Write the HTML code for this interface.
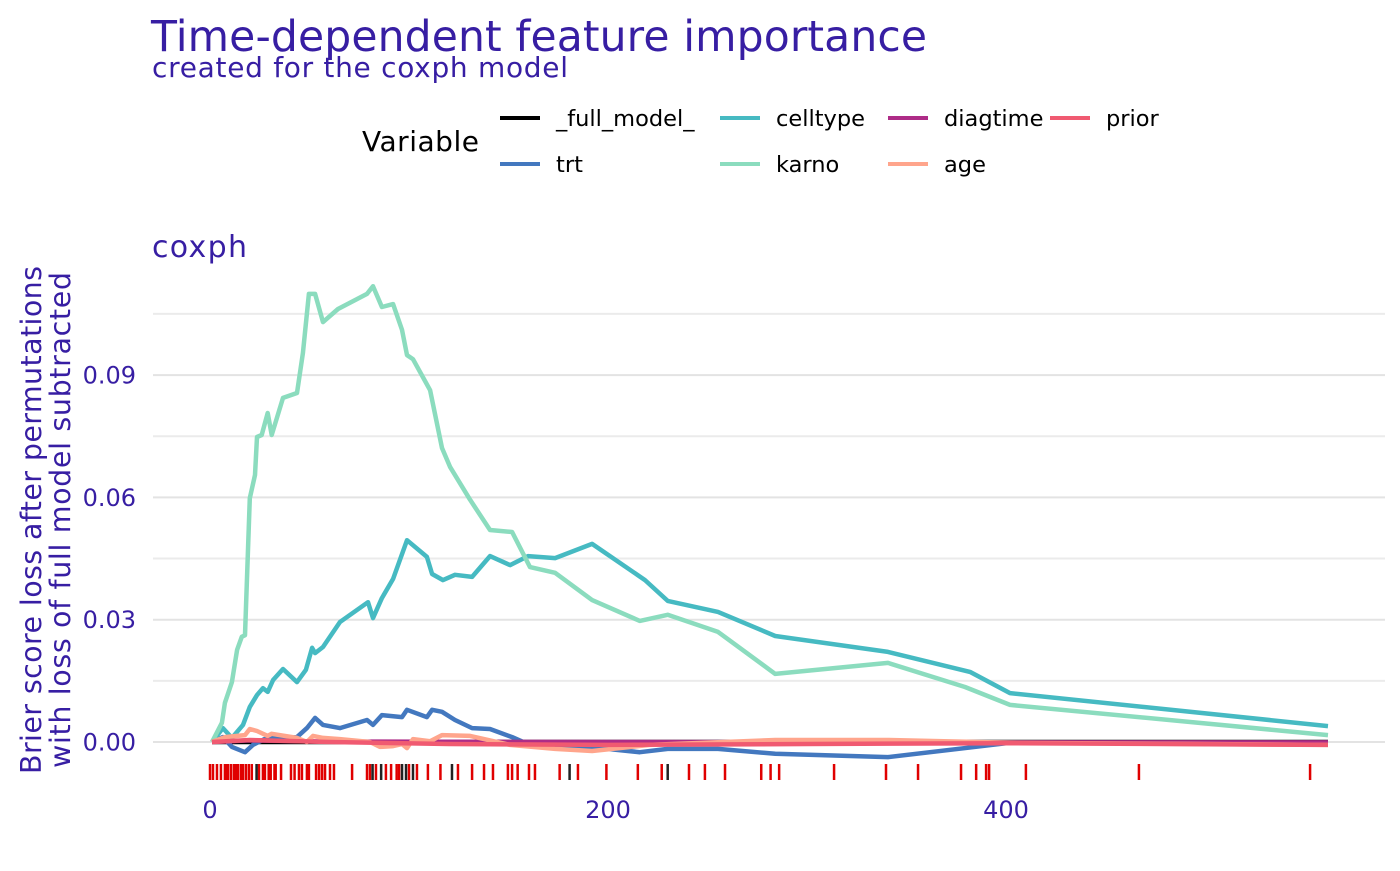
<!DOCTYPE html>
<html><head><meta charset="utf-8"><style>
html,body{margin:0;padding:0;background:#fff;}
svg text{font-family:"DejaVu Sans","Liberation Sans",sans-serif;}
</style></head><body>
<svg id="chart" width="1400" height="866" viewBox="0 0 1400 866" xmlns="http://www.w3.org/2000/svg">
<text x="151" y="51" font-size="42.5" fill="#371ea3" textLength="776">Time-dependent feature importance</text>
<text x="152" y="77" font-size="28" fill="#371ea3" textLength="416">created for the coxph model</text>
<g>
<text x="362" y="151" font-size="28" fill="#000" textLength="117">Variable</text>
</g>
<text x="152" y="257" font-size="30" fill="#371ea3" textLength="95">coxph</text>
<g transform="translate(0,520) rotate(-90)">
<text x="0" y="41" font-size="28.5" fill="#371ea3" text-anchor="middle" textLength="508">Brier score loss after permutations</text>
<text x="0" y="70" font-size="28.5" fill="#371ea3" text-anchor="middle" textLength="496">with loss of full model subtracted</text>
</g>
<g id="grid"></g><g id="axes"></g><g id="rug"></g><g id="lines"></g>
</svg>
<script>
const NS="http://www.w3.org/2000/svg";
const yTicks=[0,0.03,0.06,0.09];
const yMinor=[0.015,0.045,0.075,0.105];
const xTicks=[0,200,400];
const seriesNames=["_full_model_","trt","celltype","karno","diagtime","age","prior"];
const seriesColors=["#000000","#4378bf","#46bac2","#8bdcbe","#ae2c87","#ffa58c","#f05a71"];
const fullT=[1,100,200,300,400,561.8];
const fullV=[0,0,0,0,0,0];
const trtT=[1,6.5,11,17.6,21.6,28.6,43.7,48.7,52.8,56.8,65.3,78.9,81.9,86.4,96.5,99,109,111.6,116.6,123.1,131.7,140.7,151.8,160.8,196,216,230,255.3,284,340.7,402,561.8];
const trtV=[0,.0012,-.0012,-.0025,-.0007,.001,.0012,.0034,.0059,.0042,.0034,.0054,.0042,.0066,.0061,.0079,.0061,.0079,.0074,.0054,.0034,.0032,.0012,-.0007,-.0015,-.0025,-.0017,-.0017,-.0029,-.0037,-.0002,-.0002];
const cellT=[1,6.5,11,16.6,20,23.6,26.6,29,31.7,36.7,43.7,48.2,51.3,52.8,56.8,65.3,79.4,81.9,86.4,92,99,109,111.6,117.1,123.1,131.7,140.7,150.8,159.8,173.4,192,218.6,230,255.3,284,340.7,381.9,402,561.8];
const cellV=[0,.0034,.001,.0042,.0086,.0115,.0132,.0123,.0152,.0179,.0147,.0177,.0231,.0218,.0233,.0294,.0343,.0304,.0353,.0400,.0495,.0454,.0412,.0397,.041,.0405,.0456,.0434,.0456,.0451,.0486,.0397,.0346,.0319,.026,.0221,.0172,.012,.0039];
const karnoT=[1,6,7.5,11,13.6,16,17.6,20,22.6,23.6,26,29,31,36.7,43.7,46.7,49.7,52.8,56.8,64.3,78.9,81.9,86.4,92,96.5,99,102,110.6,116.6,120.6,130.7,140.7,151.8,160.8,173.4,192,216,230,255.3,284,340.7,379.4,402,561.8];
const karnoV=[0,.0047,.0096,.0147,.0226,.0258,.0262,.0598,.0655,.0748,.0753,.0807,.0753,.0844,.0856,.0954,.1099,.1099,.1030,.1062,.1099,.1118,.1067,.1074,.1011,.0949,.0939,.0863,.0721,.0675,.0594,.0520,.0515,.0429,.0415,.0348,.0297,.0312,.0270,.0167,.0194,.0135,.0091,.0017];
const diagT=[1,20,60,200,400,561.8];
const diagV=[0,.0004,.0001,0,-.0001,-.0001];
const ageT=[1,7.5,17.6,20,23.6,29,31,43.7,48.7,51.8,56.8,65.3,80.4,85.4,92,96.5,99,102,110.6,116.6,130.7,150.8,173.4,192,221,284,340.7,402,561.8];
const ageV=[0,.0012,.0017,.0032,.0027,.0015,.002,.001,0,.0015,.001,.0007,0,-.0012,-.001,-.0005,-.0015,.0007,.0002,.0017,.0015,-.0007,-.0017,-.0022,-.0007,.0005,.0005,-.0002,-.0007];
const priorT=[1,20,60,120,200,300,400,561.8];
const priorV=[0,.0005,0,-.0005,-.0007,-.0005,-.0003,-.0007];
const rugRed=[0,1.5,3.5,5.5,7.5,8.5,9,10.5,12,13,14,15.5,16.5,18,19.5,21,24.6,26.6,27.6,29.5,30.5,32.4,33,35.7,40.7,42.5,44.7,46.2,48.7,49.7,53.3,54.8,56.3,57.8,60.3,62.3,71.4,78.9,80.4,83.4,88.4,91,93.8,95,100,104,109.5,115.8,124.6,131.7,137.7,142.2,149.7,151.8,154.6,160.3,163.3,175.7,184.9,199.2,215,227,240.7,248.7,258.8,277,281.7,286,313.6,339.7,355.8,377.4,385,390,391.5,410,466.8,552.8];
const rugBlack=[23.4,81.7,86,96.5,98.5,102,121.6,180.7,230];

const X=t=>210+t*1.99;
const Y=v=>742-v*4077;
const L=153,R=1385;
function mk(tag,attrs,parent){const e=document.createElementNS(NS,tag);for(const k in attrs)e.setAttribute(k,attrs[k]);parent.appendChild(e);return e;}
const grid=document.getElementById('grid'),axes=document.getElementById('axes'),rug=document.getElementById('rug'),lines=document.getElementById('lines'),svg=document.getElementById('chart');
yMinor.forEach(v=>{const e=mk('line',{x1:L,x2:R,y1:Y(v),y2:Y(v),stroke:'#ebebeb','stroke-width':2},grid);

});
yTicks.forEach(v=>{const e=mk('line',{x1:L,x2:R,y1:Y(v),y2:Y(v),stroke:'#e3e3e3','stroke-width':2},grid);


const t=mk('text',{x:136,y:Y(v)+8.5,'font-size':24,fill:'#371ea3','text-anchor':'end'},axes);t.textContent=v.toFixed(2);

});
xTicks.forEach(v=>{const t=mk('text',{x:X(v),y:818,'font-size':24,fill:'#371ea3','text-anchor':'middle'},axes);t.textContent=v;

});
rugRed.forEach(t=>{const e=mk('line',{x1:X(t),x2:X(t),y1:764,y2:780,stroke:'#e00000','stroke-width':2.5},rug);

});
rugBlack.forEach(t=>{const e=mk('line',{x1:X(t),x2:X(t),y1:764,y2:780,stroke:'#222','stroke-width':2.5},rug);

});
const data=[[fullT,fullV],[trtT,trtV],[cellT,cellV],[karnoT,karnoV],[diagT,diagV],[ageT,ageV],[priorT,priorV]];
data.forEach((d,i)=>{const pts=d[0].map((t,j)=>X(t).toFixed(1)+','+Y(d[1][j]).toFixed(1)).join(' ');
const e=mk('polyline',{points:pts,fill:'none',stroke:seriesColors[i],'stroke-width':4.5,'stroke-linejoin':'round'},lines);

});
const lx=[500,720,888,1050],ly=[118,164];
const order=[[0,0],[2,0],[4,0],[6,0],[1,1],[3,1],[5,1]];
const cols=[0,1,2,3,0,1,2];
order.forEach((o,k)=>{const i=o[0],x=lx[cols[k]],y=ly[o[1]];
const e=mk('line',{x1:x,x2:x+40,y1:y,y2:y,stroke:seriesColors[i],'stroke-width':4},svg);


const t=mk('text',{x:x+56,y:y+8,'font-size':22.5,fill:'#000'},svg);t.textContent=seriesNames[i];

});
</script>
</body></html>
